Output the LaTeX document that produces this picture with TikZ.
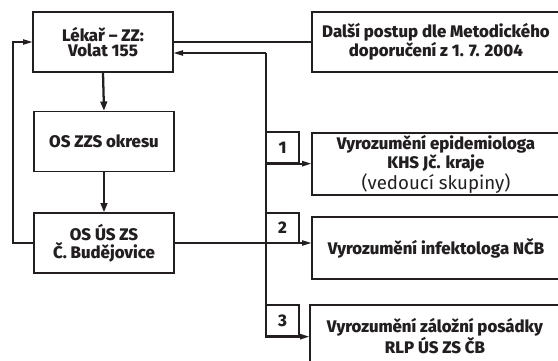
\documentclass[tikz,border=0pt]{standalone}
\usepackage{fontspec}
\setmainfont{Fira Sans}[BoldFont={Fira Sans ExtraBold}]
\usetikzlibrary{arrows.meta}
\definecolor{ink}{HTML}{231F20}
\begin{document}
\begin{tikzpicture}[x=0.75pt,y=-0.75pt,
  box/.style={draw=ink, line width=1pt, text=ink, inner sep=0pt, align=center,
    font=\bfseries\fontsize{12.6}{11.6}\selectfont},
  lbox/.style={box, minimum width=105pt, minimum height=45pt},
  rbox/.style={box, minimum width=186pt, minimum height=46.5pt},
  numbox/.style={box, minimum width=24.75pt, minimum height=23.25pt},
  conn/.style={draw=ink, line width=0.9pt},
  arr/.style={conn, -{Triangle[length=7pt,width=4pt]}},
  varr/.style={draw=ink, line width=1.7pt, -{Triangle[length=7pt,width=5pt]}}]
\useasboundingbox (0,0) rectangle (558,361);
\clip (0,0) rectangle (558,361);
% left column
\node[lbox] (A) at (103,42) {Lékař – ZZ:\\Volat 155};
\node[lbox] (B) at (104,141.5) {OS ZZS okresu};
\node[lbox] (C) at (104,243) {OS ÚS ZS\\Č. Budějovice};
% right column
\node[rbox, minimum height=45pt] (D) at (436,42) {Další postup dle Metodického\\doporučení z 1. 7. 2004};
\node[rbox] (E) at (436,164) {Vyrozumění epidemiologa\\KHS Jč. kraje\\{\mdseries\fontsize{14}{11.6}\selectfont (vedoucí skupiny)}};
\node[rbox] (F) at (436,248) {Vyrozumění infektologa NČB};
\node[rbox, minimum width=187.5pt] (G) at (435,336) {Vyrozumění záložní posádky\\RLP ÚS ZS ČB};
% number boxes
\node[numbox] (n1) at (282.5,147.5) {1};
\node[numbox, minimum height=22.5pt] (n2) at (282.5,228) {2};
\node[numbox] (n3) at (282.5,320.5) {3};
% connectors
\draw[varr] (A.south) -- (B.north);
\draw[varr] (B.south) -- (C.north);
\coordinate (fb) at (13,42);
\draw[arr] (C.west) -| (fb) -- (A.west);
\draw[conn] (A.east) -- (D.west);
\coordinate (bt) at (266,53);
\coordinate (bb) at (266,336);
\draw[conn] (bt) -- (bb);
\draw[arr] (bt) -- (A.east |- bt);
\draw[arr, line width=1.3pt] (n1.south west) -- (E.west |- n1.south west);
\draw[arr] (C.east) -- (F.west |- C.east);
\draw[arr, line width=1.3pt] (n3.south west) -- (G.west |- n3.south west);
\end{tikzpicture}
\end{document}
